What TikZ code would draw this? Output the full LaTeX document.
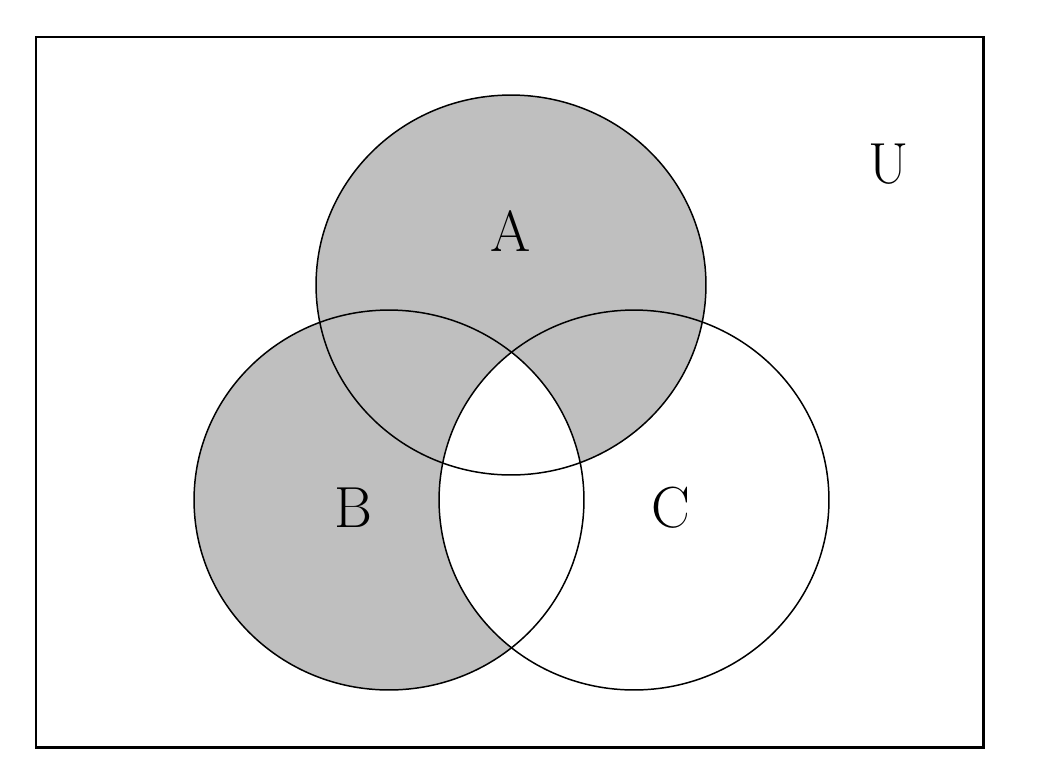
\documentclass[tikz,border=0pt]{standalone}

\begin{document}
\begin{tikzpicture}[x=0.02cm, y=-0.02cm]
	\tikzstyle{setshape}=[x radius=3.9cm, y radius=3.8cm]
	\tikzstyle{setline}=[black, line width=0.85pt]
	\tikzstyle{setfill}=[fill=black!25]
	\tikzstyle{setlabel}=[inner sep=0pt, font=\fontsize{33}{40}\selectfont]
	\useasboundingbox (0,0) rectangle (1038,782);
	
	\coordinate (c-A) at (511,285);
	\coordinate (c-B) at (389,500);
	\coordinate (c-C) at (634,500);
	
	% shaded region: A or B, without B and C
	\fill[setfill] (c-A) ellipse[setshape] (c-B) ellipse[setshape];
	\begin{scope}
		\clip (c-B) ellipse[setshape];
		\fill[white] (c-C) ellipse[setshape];
	\end{scope}
	
	\foreach \s in {A,B,C}
	\draw[setline] (c-\s) ellipse[setshape];
	
	\draw[line width=1.7pt] (36,37) rectangle (983,747);
	
	\node[setlabel](l-A) at (511,231){A};
	\node[setlabel](l-B) at (353,508){B};
	\node[setlabel](l-C) at (671,508){C};
	\node[setlabel](l-U) at (889,164){U};
\end{tikzpicture}
\end{document}
